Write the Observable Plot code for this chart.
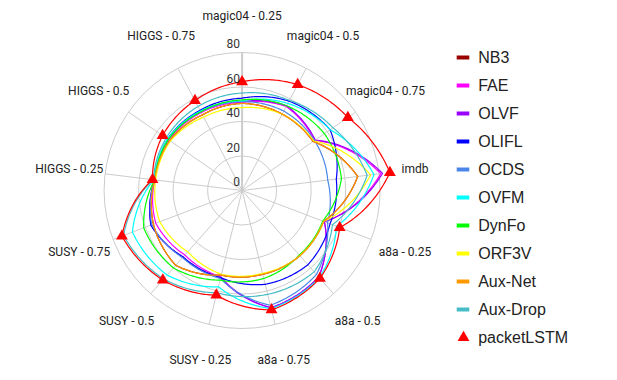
<!DOCTYPE html>
<html><head><meta charset="utf-8">
<script src="https://cdn.jsdelivr.net/npm/d3@7"></script>
<script src="https://cdn.jsdelivr.net/npm/@observablehq/plot@0.6"></script>
<style>
html,body{margin:0;padding:0;background:#fff;}
#wrap{position:relative;width:617px;height:380px;overflow:hidden;}
#chart{position:absolute;left:0;top:0;}
#legend{position:absolute;left:440px;top:30px;}
</style></head>
<body><div id="wrap"><div id="chart"></div><div id="legend"></div></div>
<script>
// ---- data ----
const axes = ["magic04 - 0.25", "magic04 - 0.5", "magic04 - 0.75", "imdb", "a8a - 0.25", "a8a - 0.5", "a8a - 0.75", "SUSY - 0.25", "SUSY - 0.5", "SUSY - 0.75", "HIGGS - 0.25", "HIGGS - 0.5", "HIGGS - 0.75"];
const seriesNames = ["NB3", "FAE", "OLVF", "OLIFL", "OCDS", "OVFM", "DynFo", "ORF3V", "Aux-Net", "Aux-Drop", "packetLSTM"];
const seriesColors = ["#980000", "#ff00ff", "#9900ff", "#0000ff", "#4a86e8", "#00ffff", "#00ff00", "#ffff00", "#ff9900", "#46bdc6", "#ff0000"];
const NB3       = [50.5, 50, 50, 67.5, 50.5, 50.5, 50, 50.5, 58, 55, 51, 51, 49.5];
const FAE       = [51, 55, 51, 81, 51, 67, 70, 51.5, 50, 53.5, 51, 51.5, 51];
const OLVF      = [51.5, 55.5, 51.5, 82, 51, 67, 70, 52, 51.5, 56.5, 51, 52, 52];
const OLIFL     = [53.5, 58.5, 62, 55, 54.5, 57.5, 56, 52, 51.5, 56.5, 51, 52.5, 52.5];
const OCDS      = [51.5, 52, 51, 50, 53, 65, 68.5, 52.5, 52, 56, 51, 52, 51.5];
const OVFM      = [52, 57, 62, 77, 58.5, 67.5, 70.5, 57.5, 65.5, 68, 51.5, 52.5, 52];
const DynFo     = [52.5, 55.5, 58, 58, 50, 50, 52.5, 53.5, 60, 61, 51, 52, 51.5];
const ORF3V     = [48, 50, 50.5, 75, 50.5, 50.5, 49.5, 50, 47.5, 51, 50.5, 50.5, 48];
const AuxNet    = [50.5, 50, 50, 67.5, 50.5, 50.5, 50, 50.5, 58, 55, 51, 51, 49.5];
const AuxDrop   = [56.5, 59, 64, 73, 56, 63, 62, 61, 68.5, 73.5, 51.8, 53.5, 55];
const packetLSTM = [63, 69.3, 74.5, 86.3, 60.5, 68, 71.3, 62.5, 69.3, 74.5, 52.3, 56, 58.8];
const seriesValues = [NB3, FAE, OLVF, OLIFL, OCDS, OVFM, DynFo, ORF3V, AuxNet, AuxDrop, packetLSTM];
const gridTicks = [0, 20, 40, 60, 80];

// ---- layout ----
const W = 617, H = 380;
const pxPerUnit = 1.725;
const cxPx = 241.6, cyPx = 190;
const xDomain = [-cxPx / pxPerUnit, (W - cxPx) / pxPerUnit];
const yDomain = [-(H - cyPx) / pxPerUnit, cyPx / pxPerUnit];
const rMax = 80, labelR = 101;

const ang = i => i * 2 * Math.PI / axes.length;
const px = (v, i) => v * Math.sin(ang(i));
const py = (v, i) => v * Math.cos(ang(i));

const rows = [];
seriesNames.forEach((s, k) => seriesValues[k].forEach((v, i) => rows.push({series: s, axis: axes[i], i, value: v})));

// curve that interpolates in polar coordinates around the chart centre (closed)
function polarClosed(cx, cy, steps = 32) {
  return function(context) {
    let pts;
    return {
      areaStart() {}, areaEnd() {},
      lineStart() { pts = []; },
      lineEnd() {
        const n = pts.length;
        if (!n) return;
        const pol = pts.map(([x, y]) => [Math.hypot(x - cx, y - cy), Math.atan2(y - cy, x - cx)]);
        context.moveTo(pts[0][0], pts[0][1]);
        for (let i = 0; i < n; i++) {
          const [r0, a0] = pol[i], [r1, a1] = pol[(i + 1) % n];
          let da = a1 - a0;
          while (da > Math.PI) da -= 2 * Math.PI;
          while (da < -Math.PI) da += 2 * Math.PI;
          for (let k = 1; k <= steps; k++) {
            const t = k / steps, r = r0 + (r1 - r0) * t, a = a0 + da * t;
            context.lineTo(cx + r * Math.cos(a), cy + r * Math.sin(a));
          }
        }
        context.closePath();
      },
      point(x, y) { pts.push([+x, +y]); }
    };
  };
}

const chart = Plot.plot({
  width: W, height: H,
  marginTop: 0, marginRight: 0, marginBottom: 0, marginLeft: 0,
  style: {fontFamily: "Roboto, 'Liberation Sans', sans-serif", background: "transparent", overflow: "visible"},
  x: {domain: xDomain, axis: null},
  y: {domain: yDomain, axis: null},
  r: {type: "linear", domain: [0, rMax], range: [0, rMax * pxPerUnit]},
  color: {domain: seriesNames, range: seriesColors},
  marks: [
    Plot.dot(gridTicks.filter(d => d > 0), {x: 0, y: 0, r: d => d, stroke: "#cccccc", fill: "none", strokeWidth: 1}),
    Plot.link(axes, {x1: 0, y1: 0, x2: (d, i) => px(rMax, i), y2: (d, i) => py(rMax, i), stroke: "#cccccc", strokeWidth: 1}),
    Plot.link(axes.slice(0, 1), {x1: 0, y1: 0, x2: (d, i) => px(rMax, i), y2: (d, i) => py(rMax, i), stroke: "#cccccc", strokeWidth: 2}),
    Plot.line(rows, {x: d => px(d.value, d.i), y: d => py(d.value, d.i), z: "series", stroke: "series", strokeWidth: 1.2, curve: polarClosed(cxPx, cyPx)}),
    Plot.dot(rows.filter(d => d.series === "packetLSTM"), {x: d => px(d.value, d.i), y: d => py(d.value, d.i), symbol: "triangle", r: 4.4, fill: "#ff0000", stroke: "none"}),
    Plot.text(gridTicks, {x: 0, y: d => d, text: d => String(d), textAnchor: "end", dx: -2, dy: -8, fontSize: 12, fill: "#333"}),
    Plot.text(axes, {x: (d, i) => px(labelR, i), y: (d, i) => py(labelR, i), text: d => d, fontSize: 12, fill: "#222"})
  ]
});
document.getElementById("chart").appendChild(chart);

// legend
const legend = Plot.plot({
  width: 175, height: 330,
  marginTop: 0, marginRight: 0, marginBottom: 0, marginLeft: 0,
  style: {fontFamily: "'Liberation Sans', Arial, sans-serif", background: "transparent", overflow: "visible"},
  x: {type: "identity", axis: null},
  y: {type: "point", domain: seriesNames, range: [22.7, 311.7], padding: 0, axis: null},
  color: {domain: seriesNames, range: seriesColors},
  marks: [
    Plot.ruleY(seriesNames.filter(s => s !== "packetLSTM"), {y: d => d, x1: 16.7, x2: 29.3, stroke: d => d, strokeWidth: 4}),
    Plot.dot(["packetLSTM"], {y: d => d, x: 23, symbol: "triangle", r: 4.4, fill: d => d, stroke: "none"}),
    Plot.text(seriesNames, {y: d => d, x: 37.7, text: d => d, textAnchor: "start", fontSize: 16, fill: "#222"})
  ]
});
document.getElementById("legend").appendChild(legend);
</script>
</body></html>
